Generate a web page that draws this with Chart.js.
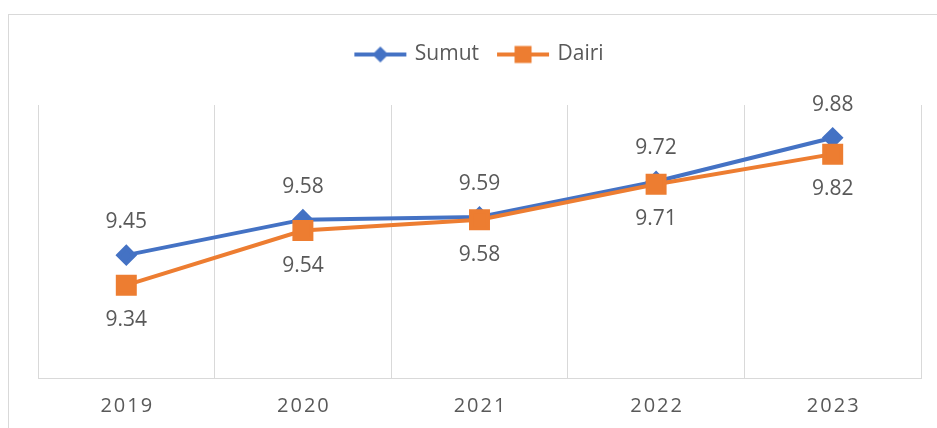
<!DOCTYPE html>
<html>
<head>
<meta charset="utf-8">
<script src="https://cdn.jsdelivr.net/npm/chart.js@4.4.1/dist/chart.umd.min.js"></script>
<style>
  html, body { margin: 0; padding: 0; background: #fff; overflow: hidden; }
  #frame { position: absolute; left: 8px; top: 14px; width: 960px; height: 440px;
           border-top: 1px solid #d9d9d9; border-left: 1px solid #d9d9d9; }
  #wrap { position: absolute; left: 0; top: 0; width: 937px; height: 428px; }
</style>
</head>
<body>
<div id="frame"></div>
<div id="wrap"><canvas id="chart"></canvas></div>
<script>
const years = ['2019', '2020', '2021', '2022', '2023'];
const sumut = [9.45, 9.58, 9.59, 9.72, 9.88];
const dairi = [9.34, 9.54, 9.58, 9.71, 9.82];

const BLUE = '#4472C4';
const ORANGE = '#ED7D31';
const TEXT = '#595959';
const FONT = '"Open Sans", "Liberation Sans", sans-serif';

// line + marker swatch for the legend, like Excel
function legendIcon(color, style) {
    const c = document.createElement('canvas');
    c.width = 54; c.height = 20;
    const g = c.getContext('2d');
    g.strokeStyle = color; g.lineWidth = 4;
    g.beginPath(); g.moveTo(1, 10); g.lineTo(53, 10); g.stroke();
    g.fillStyle = color;
    g.beginPath();
    if (style === 'diamond') {
        g.moveTo(27, 2); g.lineTo(35, 10); g.lineTo(27, 18); g.lineTo(19, 10);
    } else {
        g.rect(18.5, 1.5, 17, 17);
    }
    g.fill();
    return c;
}
const icons = [legendIcon(BLUE, 'diamond'), legendIcon(ORANGE, 'square')];

const valueLabels = {
    id: 'valueLabels',
    afterInit(chart) {
        const fit = chart.legend.fit;
        chart.legend.fit = function () { fit.call(this); this.height += 30; };
    },
    afterDatasetsDraw(chart) {
        const ctx = chart.ctx;
        ctx.save();
        ctx.font = '21px ' + FONT;
        ctx.fillStyle = TEXT;
        ctx.textAlign = 'center';
        ctx.textBaseline = 'middle';
        chart.data.datasets.forEach((ds, i) => {
            const meta = chart.getDatasetMeta(i);
            const dy = i === 0 ? -33 : 35;
            meta.data.forEach((pt, j) => {
                ctx.fillText(ds.data[j].toFixed(2), pt.x, pt.y + dy);
            });
        });
        // category labels with a little letter spacing
        const x = chart.scales.x;
        ctx.font = '20px ' + FONT;
        ctx.letterSpacing = '2px';
        years.forEach((y, j) => {
            ctx.fillText(y, x.getPixelForValue(j) + 1, x.bottom + 28);
        });
        ctx.restore();
    }
};

new Chart(document.getElementById('chart'), {
    type: 'line',
    data: {
        labels: years,
        datasets: [
            {
                label: 'Sumut', data: sumut, order: 1,
                borderColor: BLUE, backgroundColor: BLUE, borderWidth: 4,
                pointStyle: 'rectRot', pointRadius: 8, pointHoverRadius: 8,
                tension: 0
            },
            {
                label: 'Dairi', data: dairi, order: 0,
                borderColor: ORANGE, backgroundColor: ORANGE, borderWidth: 4,
                pointStyle: 'rect', pointRadius: 12, pointHoverRadius: 12,
                tension: 0
            }
        ]
    },
    options: {
        responsive: true,
        maintainAspectRatio: false,
        animation: false,
        layout: { padding: { left: 38, right: 15, top: 24, bottom: 50 } },
        plugins: {
            tooltip: { enabled: false },
            legend: {
                position: 'top',
                labels: {
                    usePointStyle: true,
                    pointStyleWidth: 48,
                    padding: 20,
                    color: TEXT,
                    font: { family: FONT, size: 21 },
                    sort: (a, b) => a.datasetIndex - b.datasetIndex,
                    generateLabels(chart) {
                        const items = Chart.defaults.plugins.legend.labels.generateLabels(chart);
                        items.forEach(it => { it.pointStyle = icons[it.datasetIndex]; });
                        return items;
                    }
                }
            }
        },
        scales: {
            x: {
                offset: true,
                grid: { offset: true, color: '#d9d9d9', lineWidth: 1, drawTicks: false },
                border: { color: '#d9d9d9', width: 1 },
                ticks: { display: false }
            },
            y: {
                display: false,
                min: 9,
                max: 10
            }
        }
    },
    plugins: [valueLabels]
});
</script>
</body>
</html>
